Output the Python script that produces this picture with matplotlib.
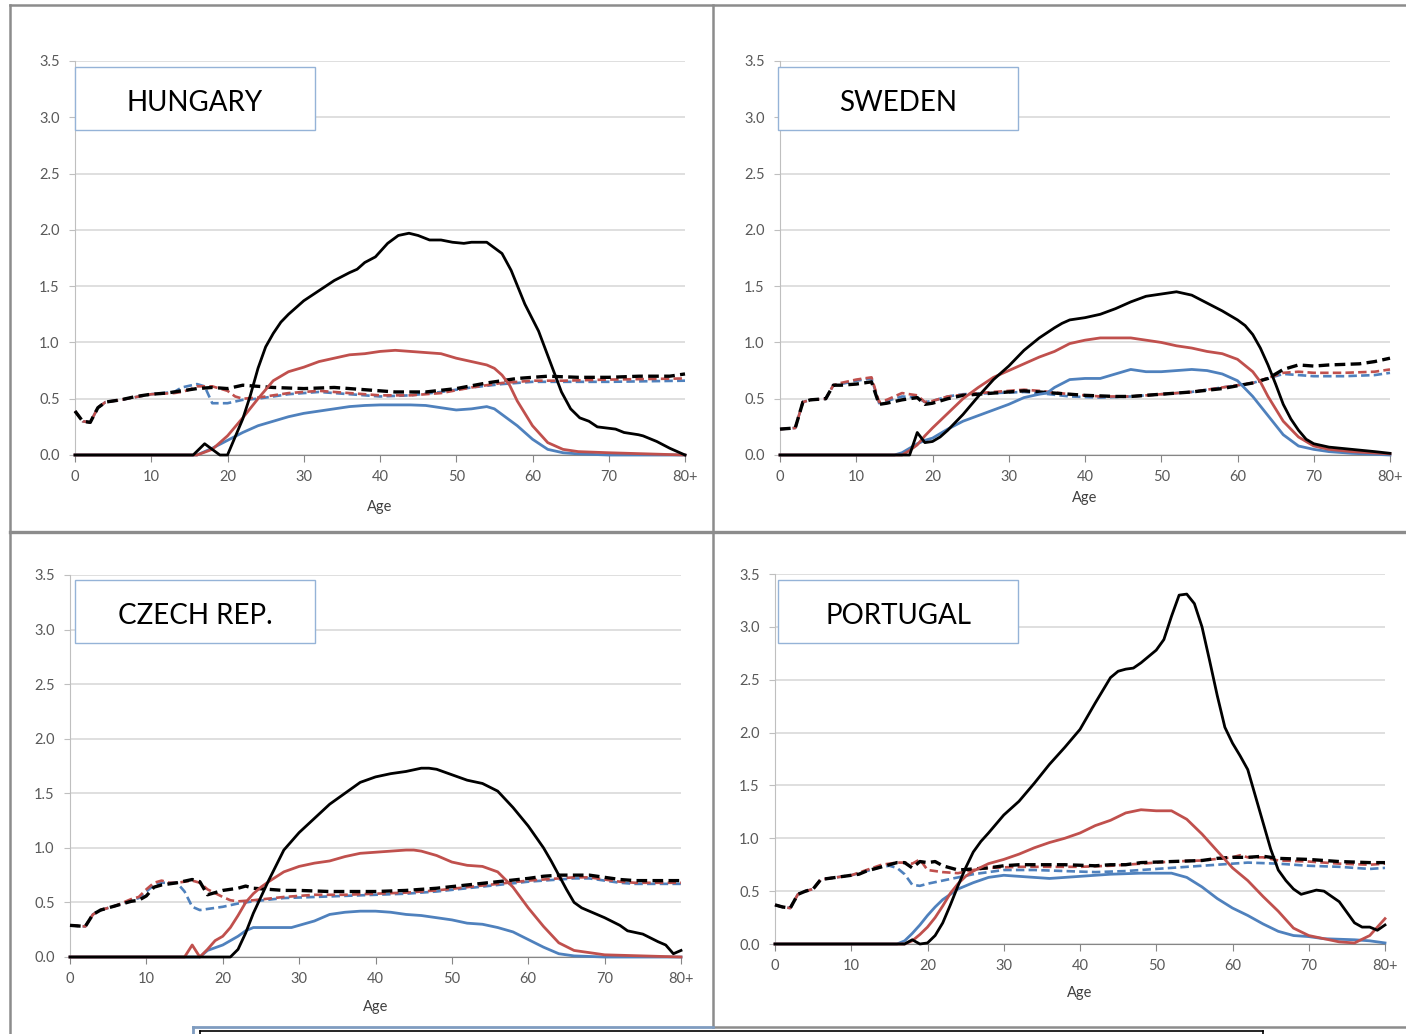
import matplotlib.pyplot as plt
from matplotlib.patches import Rectangle
from matplotlib.lines import Line2D

plt.rcParams['font.family'] = ['Lato', 'DejaVu Sans']

# (age, value) pairs, one list per curve
HU_BLACK = [(0, 0), (15.5, 0), (17, 0.10), (18, 0.05), (19, 0.0), (20, 0.0), (22, 0.32), (23, 0.53),
            (24, 0.77), (25, 0.96), (26, 1.08), (27, 1.18), (28, 1.25), (30, 1.37), (32, 1.46), (34, 1.55),
            (36, 1.62), (37, 1.65), (38, 1.71), (39.4, 1.76), (41, 1.88), (42.4, 1.95), (43.8, 1.97),
            (45, 1.95), (46.5, 1.91), (48, 1.91), (49.5, 1.89), (51, 1.88), (52, 1.89), (54, 1.89),
            (54.8, 1.85), (56, 1.79), (57.2, 1.64), (59, 1.34), (60.8, 1.10), (62.3, 0.83), (63.8, 0.56),
            (65, 0.41), (66.2, 0.33), (67.4, 0.30), (68.5, 0.25), (69.7, 0.24), (70.9, 0.23), (72, 0.20),
            (73.9, 0.18), (74.5, 0.17), (76.3, 0.12), (78, 0.06), (80, 0.0)]
HU_RED = [(0, 0), (16, 0), (18, 0.05), (20, 0.17), (22, 0.33), (24, 0.50), (26, 0.66), (28, 0.74),
          (30, 0.78), (32, 0.83), (34, 0.86), (36, 0.89), (38, 0.90), (40, 0.92), (42, 0.93), (44, 0.92),
          (46, 0.91), (48, 0.90), (50, 0.86), (52, 0.83), (54, 0.80), (55, 0.77), (56, 0.71), (57, 0.62),
          (58, 0.48), (60, 0.26), (62, 0.11), (64, 0.05), (66, 0.03), (70, 0.02), (75, 0.01), (80, 0.0)]
HU_BLUE = [(0, 0), (16, 0), (18, 0.06), (20, 0.13), (22, 0.20), (24, 0.26), (26, 0.30), (28, 0.34),
           (30, 0.37), (32, 0.39), (34, 0.41), (36, 0.43), (38, 0.44), (40, 0.445), (44, 0.445), (46, 0.44),
           (48, 0.42), (50, 0.40), (52, 0.41), (54, 0.43), (55, 0.41), (56, 0.36), (58, 0.26), (60, 0.14),
           (62, 0.05), (64, 0.02), (66, 0.01), (70, 0.0), (80, 0.0)]
HU_BLACK_D = [(0, 0.39), (1, 0.30), (2, 0.29), (3, 0.42), (4, 0.47), (5, 0.48), (6, 0.49), (8, 0.52),
              (10, 0.54), (12, 0.55), (14, 0.57), (16, 0.59), (18, 0.60), (20, 0.59), (22, 0.62), (24, 0.61),
              (26, 0.60), (30, 0.59), (34, 0.60), (38, 0.58), (42, 0.56), (46, 0.56), (50, 0.59), (54, 0.64),
              (58, 0.68), (62, 0.70), (66, 0.69), (70, 0.69), (74, 0.70), (78, 0.70), (80, 0.72)]
HU_RED_D = [(0, 0.39), (1, 0.30), (2, 0.29), (3, 0.42), (4, 0.47), (6, 0.49), (10, 0.54), (13, 0.55),
            (14, 0.56), (15, 0.58), (16, 0.61), (18, 0.61), (20, 0.57), (21, 0.52), (22, 0.50), (24, 0.51),
            (28, 0.55), (32, 0.57), (36, 0.55), (40, 0.53), (44, 0.53), (48, 0.55), (52, 0.60), (56, 0.64),
            (60, 0.66), (64, 0.66), (70, 0.67), (80, 0.68)]
HU_BLUE_D = [(0, 0.39), (1, 0.30), (2, 0.29), (3, 0.42), (4, 0.47), (6, 0.49), (10, 0.54), (13, 0.56),
             (14, 0.60), (16, 0.63), (17, 0.61), (18, 0.46), (20, 0.46), (22, 0.49), (24, 0.50), (28, 0.54),
             (32, 0.56), (36, 0.54), (40, 0.52), (44, 0.53), (48, 0.56), (52, 0.60), (56, 0.63), (60, 0.65),
             (64, 0.65), (70, 0.65), (80, 0.66)]

SE_BLACK = [(0, 0), (17, 0), (18, 0.20), (19, 0.11), (20, 0.12), (21, 0.16), (22, 0.22), (24, 0.36),
            (26, 0.52), (28, 0.67), (30, 0.79), (32, 0.93), (34, 1.04), (36, 1.13), (37, 1.17), (38, 1.20),
            (40, 1.22), (42, 1.25), (44, 1.30), (46, 1.36), (48, 1.41), (50, 1.43), (52, 1.45), (54, 1.42),
            (56, 1.35), (58, 1.28), (60, 1.20), (61, 1.15), (62, 1.07), (63, 0.95), (64, 0.80), (65, 0.63),
            (66, 0.45), (67, 0.32), (68, 0.22), (69, 0.14), (70, 0.10), (72, 0.07), (75, 0.05), (78, 0.03),
            (80, 0.015)]
SE_RED = [(0, 0), (16, 0), (17, 0.04), (18, 0.09), (19, 0.17), (20, 0.24), (22, 0.37), (24, 0.50),
          (26, 0.60), (28, 0.69), (30, 0.75), (32, 0.81), (34, 0.87), (36, 0.92), (38, 0.99), (40, 1.02),
          (42, 1.04), (44, 1.04), (46, 1.04), (48, 1.02), (50, 1.00), (52, 0.97), (54, 0.95), (56, 0.92),
          (58, 0.90), (60, 0.85), (62, 0.74), (63, 0.65), (64, 0.52), (66, 0.30), (68, 0.16), (70, 0.08),
          (72, 0.05), (75, 0.03), (80, 0.01)]
SE_BLUE = [(0, 0), (15, 0), (16, 0.02), (17, 0.06), (18, 0.10), (19, 0.13), (20, 0.15), (22, 0.23),
           (24, 0.30), (26, 0.35), (28, 0.40), (30, 0.45), (32, 0.51), (34, 0.54), (35, 0.55), (36, 0.60),
           (38, 0.67), (40, 0.68), (42, 0.68), (44, 0.72), (46, 0.76), (48, 0.74), (50, 0.74), (52, 0.75),
           (54, 0.76), (56, 0.75), (58, 0.72), (60, 0.66), (62, 0.52), (64, 0.35), (66, 0.18), (68, 0.08),
           (70, 0.05), (72, 0.03), (75, 0.015), (80, 0.0)]
SE_BLACK_D = [(0, 0.23), (2, 0.24), (3, 0.47), (4, 0.49), (6, 0.50), (7, 0.62), (8, 0.62), (10, 0.63),
              (12, 0.65), (13, 0.45), (14, 0.46), (16, 0.49), (18, 0.51), (19, 0.45), (20, 0.46), (22, 0.50),
              (24, 0.53), (26, 0.54), (28, 0.55), (30, 0.56), (32, 0.57), (34, 0.56), (36, 0.55), (38, 0.54),
              (40, 0.53), (44, 0.52), (46, 0.52), (50, 0.54), (54, 0.56), (58, 0.59), (62, 0.64), (64, 0.68),
              (66, 0.76), (68, 0.80), (70, 0.79), (72, 0.80), (76, 0.81), (78, 0.83), (80, 0.86)]
SE_RED_D = [(0, 0.23), (2, 0.24), (3, 0.47), (4, 0.49), (6, 0.50), (7, 0.62), (8, 0.64), (10, 0.67),
            (12, 0.69), (13, 0.47), (14, 0.49), (16, 0.55), (18, 0.53), (19, 0.47), (20, 0.48), (22, 0.52),
            (26, 0.55), (30, 0.57), (32, 0.58), (34, 0.57), (38, 0.54), (42, 0.52), (46, 0.52), (50, 0.54),
            (54, 0.56), (58, 0.60), (62, 0.64), (66, 0.73), (68, 0.74), (70, 0.73), (74, 0.73), (78, 0.74),
            (80, 0.76)]
SE_BLUE_D = [(0, 0.23), (2, 0.24), (3, 0.47), (4, 0.49), (6, 0.50), (7, 0.62), (8, 0.63), (10, 0.66),
             (12, 0.68), (13, 0.46), (14, 0.48), (16, 0.52), (18, 0.51), (19, 0.47), (20, 0.48), (22, 0.52),
             (24, 0.54), (28, 0.55), (32, 0.56), (34, 0.55), (38, 0.52), (42, 0.51), (46, 0.52), (50, 0.54),
             (54, 0.56), (58, 0.60), (62, 0.64), (66, 0.72), (68, 0.71), (70, 0.70), (74, 0.70), (78, 0.71),
             (80, 0.73)]

CZ_BLACK = [(0, 0), (21, 0), (22, 0.07), (23, 0.22), (24, 0.40), (25, 0.55), (26, 0.70), (28, 0.98),
            (30, 1.14), (32, 1.27), (34, 1.40), (36, 1.50), (38, 1.60), (40, 1.65), (42, 1.68), (44, 1.70),
            (46, 1.73), (47, 1.73), (48, 1.72), (50, 1.67), (52, 1.62), (54, 1.59), (56, 1.52), (58, 1.37),
            (60, 1.20), (62, 1.00), (63, 0.88), (64, 0.75), (65, 0.62), (66, 0.50), (67, 0.45), (68, 0.42),
            (70, 0.36), (72, 0.29), (73, 0.24), (75, 0.21), (77, 0.14), (78, 0.11), (79, 0.03), (80, 0.06)]
CZ_RED = [(0, 0), (15, 0), (16, 0.11), (17, 0.0), (18, 0.07), (19, 0.15), (20, 0.19), (21, 0.27),
          (22, 0.38), (23, 0.50), (24, 0.58), (25, 0.64), (26, 0.69), (28, 0.78), (30, 0.83), (32, 0.86),
          (34, 0.88), (36, 0.92), (38, 0.95), (40, 0.96), (42, 0.97), (44, 0.98), (45, 0.98), (46, 0.97),
          (48, 0.93), (50, 0.87), (52, 0.84), (54, 0.83), (56, 0.78), (58, 0.64), (60, 0.45), (62, 0.28),
          (64, 0.13), (66, 0.06), (68, 0.04), (70, 0.02), (75, 0.01), (80, 0.0)]
CZ_BLUE = [(0, 0), (17, 0), (18, 0.06), (20, 0.11), (22, 0.19), (23, 0.24), (24, 0.27), (26, 0.27),
           (29, 0.27), (30, 0.29), (32, 0.33), (34, 0.39), (36, 0.41), (38, 0.42), (40, 0.42), (42, 0.41),
           (44, 0.39), (46, 0.38), (48, 0.36), (50, 0.34), (52, 0.31), (54, 0.30), (56, 0.27), (58, 0.23),
           (60, 0.16), (62, 0.09), (64, 0.03), (66, 0.01), (70, 0.0), (80, 0.0)]
CZ_BLACK_D = [(0, 0.29), (2, 0.28), (3, 0.39), (4, 0.43), (6, 0.47), (8, 0.51), (9, 0.52), (10, 0.56),
              (11, 0.64), (12, 0.66), (14, 0.68), (16, 0.71), (17, 0.69), (18, 0.57), (20, 0.61), (22, 0.63),
              (23, 0.65), (24, 0.63), (26, 0.62), (28, 0.61), (30, 0.61), (34, 0.60), (40, 0.60), (44, 0.61),
              (48, 0.63), (52, 0.66), (56, 0.69), (60, 0.72), (62, 0.74), (64, 0.75), (66, 0.75), (68, 0.75),
              (70, 0.73), (72, 0.71), (74, 0.70), (76, 0.70), (80, 0.70)]
CZ_RED_D = [(0, 0.29), (2, 0.28), (3, 0.39), (4, 0.43), (6, 0.47), (8, 0.53), (9, 0.55), (10, 0.62),
            (11, 0.68), (12, 0.70), (13, 0.68), (14, 0.68), (16, 0.70), (17, 0.68), (18, 0.62), (20, 0.55),
            (21, 0.52), (22, 0.51), (24, 0.52), (28, 0.55), (32, 0.57), (36, 0.57), (40, 0.58), (44, 0.59),
            (48, 0.61), (52, 0.64), (56, 0.67), (60, 0.70), (64, 0.72), (66, 0.73), (68, 0.73), (70, 0.71),
            (72, 0.69), (74, 0.68), (80, 0.68)]
CZ_BLUE_D = [(0, 0.29), (2, 0.28), (3, 0.39), (4, 0.43), (6, 0.47), (8, 0.52), (9, 0.54), (10, 0.60),
             (11, 0.66), (12, 0.68), (14, 0.68), (15, 0.60), (16, 0.46), (17, 0.43), (18, 0.44), (20, 0.46),
             (22, 0.49), (24, 0.51), (28, 0.54), (32, 0.55), (36, 0.56), (40, 0.57), (44, 0.58), (48, 0.60),
             (52, 0.63), (56, 0.66), (60, 0.69), (64, 0.71), (66, 0.72), (68, 0.72), (70, 0.70), (72, 0.68),
             (74, 0.67), (80, 0.67)]

PT_BLACK = [(0, 0), (17, 0), (18, 0.04), (19, 0.0), (20, 0.01), (21, 0.08), (22, 0.20), (23, 0.37),
            (24, 0.55), (25, 0.72), (26, 0.87), (27, 0.97), (28, 1.05), (30, 1.22), (32, 1.35), (34, 1.52),
            (36, 1.70), (38, 1.86), (40, 2.03), (42, 2.28), (44, 2.52), (45, 2.58), (46, 2.60), (47, 2.61),
            (48, 2.66), (49, 2.72), (50, 2.78), (51, 2.88), (52, 3.10), (53, 3.30), (54, 3.31), (55, 3.22),
            (56, 3.00), (57, 2.68), (58, 2.35), (59, 2.05), (60, 1.90), (61, 1.78), (62, 1.65), (63, 1.40),
            (64, 1.15), (65, 0.90), (66, 0.70), (67, 0.60), (68, 0.52), (69, 0.47), (70, 0.49), (71, 0.51),
            (72, 0.50), (73, 0.45), (74, 0.40), (75, 0.30), (76, 0.20), (77, 0.16), (78, 0.16), (79, 0.13),
            (80, 0.18)]
PT_RED = [(0, 0), (17, 0), (18, 0.03), (19, 0.09), (20, 0.16), (21, 0.25), (22, 0.36), (23, 0.48),
          (24, 0.57), (25, 0.64), (26, 0.69), (28, 0.76), (30, 0.80), (32, 0.85), (34, 0.91), (36, 0.96),
          (38, 1.00), (40, 1.05), (42, 1.12), (44, 1.17), (46, 1.24), (48, 1.27), (50, 1.26), (52, 1.26),
          (54, 1.18), (56, 1.04), (58, 0.88), (60, 0.72), (62, 0.60), (64, 0.45), (66, 0.31), (68, 0.15),
          (70, 0.08), (72, 0.05), (74, 0.02), (76, 0.01), (78, 0.08), (80, 0.24)]
PT_BLUE = [(0, 0), (16, 0), (17, 0.03), (18, 0.10), (19, 0.18), (20, 0.27), (21, 0.35), (22, 0.42),
           (23, 0.47), (24, 0.52), (26, 0.58), (28, 0.63), (30, 0.65), (32, 0.64), (34, 0.63), (36, 0.62),
           (38, 0.63), (40, 0.64), (44, 0.66), (48, 0.67), (52, 0.67), (54, 0.63), (56, 0.54), (58, 0.43),
           (60, 0.34), (62, 0.27), (64, 0.19), (66, 0.12), (68, 0.08), (70, 0.07), (72, 0.05), (76, 0.04),
           (78, 0.03), (80, 0.01)]
PT_BLACK_D = [(0, 0.37), (1, 0.35), (2, 0.34), (3, 0.47), (4, 0.50), (5, 0.52), (6, 0.61), (8, 0.63),
              (10, 0.65), (11, 0.66), (12, 0.69), (14, 0.73), (16, 0.77), (17, 0.77), (18, 0.72), (19, 0.78),
              (20, 0.77), (21, 0.78), (22, 0.74), (23, 0.72), (24, 0.70), (26, 0.71), (28, 0.72), (30, 0.74),
              (32, 0.75), (34, 0.75), (38, 0.75), (42, 0.74), (44, 0.75), (46, 0.75), (48, 0.77), (52, 0.78),
              (56, 0.79), (58, 0.81), (60, 0.82), (62, 0.82), (64, 0.83), (66, 0.81), (70, 0.80), (74, 0.78),
              (78, 0.77), (80, 0.77)]
PT_RED_D = [(0, 0.37), (1, 0.35), (2, 0.34), (3, 0.47), (4, 0.50), (5, 0.52), (6, 0.61), (8, 0.63),
            (10, 0.65), (12, 0.70), (14, 0.75), (16, 0.77), (17, 0.77), (18, 0.76), (19, 0.80), (20, 0.70),
            (22, 0.68), (24, 0.67), (26, 0.70), (28, 0.72), (32, 0.73), (36, 0.73), (40, 0.73), (44, 0.74),
            (48, 0.76), (52, 0.78), (56, 0.79), (60, 0.82), (61, 0.84), (62, 0.82), (64, 0.82), (66, 0.79),
            (70, 0.78), (74, 0.76), (78, 0.75), (80, 0.76)]
PT_BLUE_D = [(0, 0.37), (1, 0.35), (2, 0.34), (3, 0.47), (4, 0.50), (5, 0.52), (6, 0.61), (8, 0.63),
             (10, 0.65), (12, 0.69), (14, 0.73), (15, 0.74), (16, 0.72), (17, 0.66), (18, 0.56), (19, 0.55),
             (20, 0.57), (22, 0.60), (24, 0.63), (26, 0.66), (28, 0.68), (30, 0.70), (34, 0.70), (38, 0.69),
             (42, 0.68), (46, 0.69), (50, 0.71), (54, 0.73), (58, 0.75), (62, 0.77), (66, 0.76), (70, 0.74),
             (74, 0.73), (78, 0.71), (80, 0.72)]

COUNTRIES = ['HUNGARY', 'SWEDEN', 'CZECH REP.', 'PORTUGAL']
X_TICKS = [0, 10, 20, 30, 40, 50, 60, 70, 80]
X_LABELS = ['0', '10', '20', '30', '40', '50', '60', '70', '80+']
Y_TICKS = [0.0, 0.5, 1.0, 1.5, 2.0, 2.5, 3.0, 3.5]

RED = '#C0504D'
BLUE = '#4F81BD'

W, H = 1406, 1034
fig = plt.figure(figsize=(W / 100, H / 100), dpi=100)


def px_rect(x0, y0, x1, y1):
    # pixel box (top-left origin) -> figure fraction rect
    return [x0 / W, 1 - y1 / H, (x1 - x0) / W, (y1 - y0) / H]


def draw_panel(rect, curves, name, box, labelpad):
    ax = fig.add_axes(px_rect(*rect))
    # dashed first, solid on top
    styles = [
        (curves[5], BLUE, True, 1.9, 3),
        (curves[4], RED, True, 1.9, 3),
        (curves[3], 'black', True, 2.4, 3),
        (curves[2], BLUE, False, 2.0, 4),
        (curves[1], RED, False, 2.0, 4),
        (curves[0], 'black', False, 2.0, 5),
    ]
    for pts, col, dashed, lw, z in styles:
        xs = [p[0] for p in pts]
        ys = [p[1] for p in pts]
        line, = ax.plot(xs, ys, color=col, lw=lw, zorder=z, clip_on=False,
                        solid_joinstyle='round')
        if dashed:
            line.set_dashes((3.2, 1.6))
    ax.set_xlim(0, 80)
    ax.set_ylim(0, 3.5)
    ax.set_xticks(X_TICKS)
    ax.set_xticklabels(X_LABELS)
    ax.set_yticks(Y_TICKS)
    ax.set_yticklabels(['%.1f' % v for v in Y_TICKS])
    for s in ['top', 'right']:
        ax.spines[s].set_visible(False)
    ax.spines['left'].set_color('#BFBFBF')
    ax.spines['bottom'].set_color('#868686')
    ax.spines['bottom'].set_zorder(2)
    ax.grid(axis='y', color='#D9D9D9', lw=1.2)
    ax.set_axisbelow(True)
    ax.tick_params(axis='y', length=4, color='#BFBFBF', labelcolor='#595959', labelsize=10.5, pad=7)
    ax.tick_params(axis='x', length=5, color='#868686', labelcolor='#595959', labelsize=10.5, pad=6)
    ax.set_xlabel('Age', fontsize=10.5, color='#404040', labelpad=labelpad)

    # country name box
    bx0, by0, bx1, by1 = box
    fig.add_artist(Rectangle((bx0 / W, 1 - by1 / H), (bx1 - bx0) / W, (by1 - by0) / H,
                             transform=fig.transFigure, facecolor='white',
                             edgecolor='#95B3D7', lw=1.0, zorder=5))
    fig.text((bx0 + bx1) / 2 / W, 1 - (by0 + 44) / H, name, ha='center', va='baseline',
             fontsize=20, color='black', zorder=6)
    return ax


draw_panel((75, 61, 685, 455),
           [HU_BLACK, HU_RED, HU_BLUE, HU_BLACK_D, HU_RED_D, HU_BLUE_D],
           COUNTRIES[0], (75, 67, 315, 130), 11)
draw_panel((780, 61, 1390, 455),
           [SE_BLACK, SE_RED, SE_BLUE, SE_BLACK_D, SE_RED_D, SE_BLUE_D],
           COUNTRIES[1], (778, 67, 1018, 130), 5)
draw_panel((70, 575, 681, 957),
           [CZ_BLACK, CZ_RED, CZ_BLUE, CZ_BLACK_D, CZ_RED_D, CZ_BLUE_D],
           COUNTRIES[2], (75, 580, 315, 643), 10)
draw_panel((775, 574, 1385, 944),
           [PT_BLACK, PT_RED, PT_BLUE, PT_BLACK_D, PT_RED_D, PT_BLUE_D],
           COUNTRIES[3], (778, 580, 1018, 643), 9)


# panel frames
def px_line(x0, y0, x1, y1, color='#8C8C8C', lw=1.8):
    fig.add_artist(Line2D([x0 / W, x1 / W], [1 - y0 / H, 1 - y1 / H],
                          transform=fig.transFigure, color=color, lw=lw, zorder=7))


px_line(10, 5, 1406, 5)
px_line(10, 5, 10, 1034)
px_line(713, 5, 713, 1027)
px_line(10, 532, 1406, 532, lw=2.4)
px_line(713, 1027, 1406, 1027)
px_line(193, 1027, 713, 1027, color='#7F9CC0', lw=2.0)
px_line(193, 1027, 193, 1034, color='#7F9CC0', lw=2.0)
px_line(200, 1031, 1263, 1031, color='black', lw=1.2)
px_line(200, 1031, 200, 1034, color='black', lw=1.2)
px_line(1263, 1031, 1263, 1034, color='black', lw=1.2)

fig.savefig('out.png', dpi=100)
